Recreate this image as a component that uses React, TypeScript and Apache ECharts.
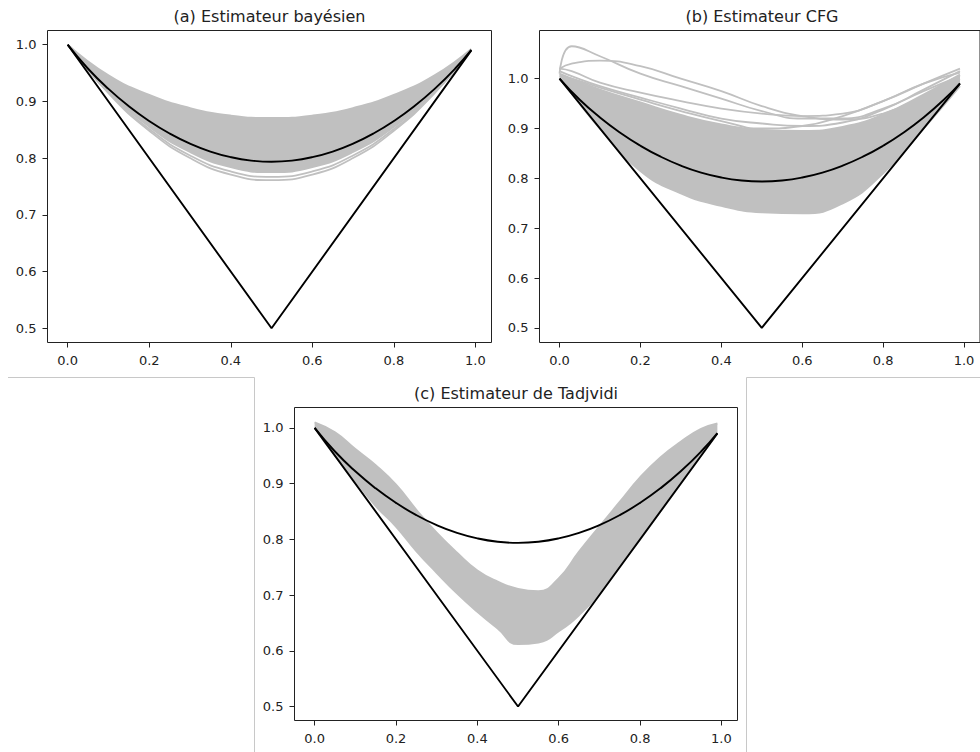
import React, { useEffect, useRef } from "react";
import * as echarts from "echarts";

// ---- shared data ----
const tFine = [0, 0.05, 0.1, 0.15, 0.2, 0.25, 0.3, 0.35, 0.4, 0.45, 0.5, 0.55, 0.6, 0.65, 0.7, 0.75, 0.8, 0.85, 0.9, 0.95, 0.99];
const trueCurve = [1.0, 0.9576, 0.9221, 0.8915, 0.8654, 0.8434, 0.8255, 0.8116, 0.8017, 0.7957, 0.7937, 0.7957, 0.8017, 0.8116, 0.8255, 0.8434, 0.8654, 0.8915, 0.9221, 0.9576, 0.9907];
const boundT = [0, 0.5, 0.99];
const boundV = [1.0, 0.5, 0.99];

// ---- (a) Bayesian estimator ----
const tA = [0, 0.1, 0.2, 0.3, 0.4, 0.5, 0.6, 0.7, 0.8, 0.9, 0.99];
const aUpper = [1.0, 0.9459, 0.9113, 0.8882, 0.8749, 0.8706, 0.8749, 0.8882, 0.9113, 0.9459, 0.9925];
const aLower = [1.0, 0.9176, 0.8556, 0.8111, 0.7843, 0.7754, 0.7843, 0.8111, 0.8556, 0.9176, 0.9905];
const aLine1 = [1.0, 0.9157, 0.8513, 0.8047, 0.7765, 0.767, 0.7765, 0.8047, 0.8513, 0.9157, 0.9903];
const aLine2 = [1.0, 0.9144, 0.8483, 0.8002, 0.7709, 0.7611, 0.7709, 0.8002, 0.8483, 0.9144, 0.9903];

// ---- (b) CFG estimator ----
const tB = [0, 0.03, 0.1, 0.2, 0.3, 0.4, 0.5, 0.6, 0.7, 0.8, 0.9, 0.99];
const bUpper = [1.01, 1.0, 0.978, 0.952, 0.927, 0.908, 0.897, 0.895, 0.903, 0.928, 0.968, 1.008];
const bLower = [1.0, 0.97, 0.9, 0.815, 0.77, 0.745, 0.732, 0.73, 0.75, 0.81, 0.9, 0.985];
const bLine1 = [1.015, 1.005, 0.985, 0.962, 0.94, 0.92, 0.91, 0.905, 0.912, 0.938, 0.978, 1.015];
const bLine2 = [1.02, 1.015, 0.992, 0.972, 0.955, 0.94, 0.93, 0.925, 0.93, 0.955, 0.99, 1.02];
const bLine3 = [1.005, 1.0, 0.982, 0.958, 0.935, 0.915, 0.9, 0.905, 0.925, 0.955, 0.99, 1.012];
const bPeak = [1.01, 1.065, 1.045, 1.01, 0.985, 0.96, 0.935, 0.92, 0.92, 0.94, 0.975, 1.005];
const bFlat = [1.02, 1.03, 1.036, 1.025, 1.0, 0.975, 0.945, 0.925, 0.918, 0.93, 0.965, 1.0];

// ---- (c) Tadjvidi estimator ----
const cUpper = [1.01, 0.992, 0.962, 0.933, 0.898, 0.853, 0.812, 0.776, 0.744, 0.724, 0.711, 0.707, 0.73, 0.778, 0.823, 0.867, 0.911, 0.947, 0.975, 0.998, 1.008];
const cLower = [1.0, 0.95, 0.905, 0.86, 0.823, 0.779, 0.74, 0.703, 0.67, 0.64, 0.612, 0.615, 0.635, 0.664, 0.703, 0.752, 0.8, 0.85, 0.9, 0.95, 0.99];

const xTicks = [0, 0.2, 0.4, 0.6, 0.8, 1.0];
const yTicks = [0.5, 0.6, 0.7, 0.8, 0.9, 1.0];
const titles = ["(a) Estimateur bayésien", "(b) Estimateur CFG", "(c) Estimateur de Tadjvidi"];

const GRAY = "#c0c0c0";
const FONT = "DejaVu Sans";

const pairs = (xs: number[], ys: number[]) => xs.map((x, i) => [x, ys[i]]);

export default function App() {
  const ref = useRef<HTMLDivElement>(null);
  useEffect(() => {
    if (!ref.current) return;
    const chart = echarts.init(ref.current, undefined, { renderer: "svg" });

    const grids = [
      { left: 47.5, top: 30.5, width: 444, height: 312 },
      { left: 539.5, top: 30.5, width: 445, height: 312 },
      { left: 294.5, top: 407.5, width: 443, height: 313 },
    ];
    const yRanges = [
      [0.475, 1.025],
      [0.4706, 1.0966],
      [0.4749, 1.0366],
    ];

    const xAxis = grids.map((_, i) => ({
      type: "value",
      gridIndex: i,
      min: -0.0495,
      max: 1.0395,
      splitLine: { show: false },
      axisLine: { show: false, onZero: false },
      axisTick: { show: true, inside: false, length: 5, customValues: xTicks, lineStyle: { color: "#222", width: 1 } },
      axisLabel: {
        customValues: xTicks,
        formatter: (v: number) => v.toFixed(1),
        fontSize: 13,
        fontFamily: FONT,
        color: "#222",
        margin: 11,
      },
      z: 6,
    }));
    const yAxis = grids.map((_, i) => ({
      type: "value",
      gridIndex: i,
      min: yRanges[i][0],
      max: yRanges[i][1],
      splitLine: { show: false },
      axisLine: { show: false, onZero: false },
      axisTick: { show: true, inside: false, length: 5, customValues: yTicks, lineStyle: { color: "#222", width: 1 } },
      axisLabel: {
        customValues: yTicks,
        formatter: (v: number) => v.toFixed(1),
        fontSize: 13,
        fontFamily: FONT,
        color: "#222",
        margin: 11,
      },
      z: 6,
    }));

    const series: any[] = [];
    const base = (gi: number) => ({
      type: "line",
      xAxisIndex: gi,
      yAxisIndex: gi,
      symbol: "none",
      silent: true,
    });
    const band = (gi: number, xs: number[], up: number[], lo: number[]) => {
      // gray fill under the upper envelope
      series.push({
        ...base(gi),
        data: pairs(xs, up),
        smooth: true,
        lineStyle: { color: GRAY, width: 2 },
        areaStyle: { color: GRAY, opacity: 1, origin: "start" },
        z: 1,
      });
      // white fill under the lower envelope, continued a hair beyond both ends
      // along the end segments so that no seam is left at the band's ends
      const n = xs.length;
      const d = 0.006;
      const sL = (lo[1] - lo[0]) / (xs[1] - xs[0]);
      const sR = (lo[n - 1] - lo[n - 2]) / (xs[n - 1] - xs[n - 2]);
      const loData = [[xs[0] - d, lo[0] - sL * d], ...pairs(xs, lo), [xs[n - 1] + d, lo[n - 1] + sR * d]];
      series.push({
        ...base(gi),
        data: loData,
        smooth: true,
        lineStyle: { width: 0, opacity: 0 },
        areaStyle: { color: "#ffffff", opacity: 1, origin: "start" },
        z: 2,
      });
      // gray stroke of the lower envelope
      series.push({
        ...base(gi),
        data: pairs(xs, lo),
        smooth: true,
        lineStyle: { color: GRAY, width: 2 },
        z: 3,
      });
    };
    const grayLine = (gi: number, xs: number[], ys: number[]) => {
      series.push({
        ...base(gi),
        data: pairs(xs, ys),
        smooth: true,
        lineStyle: { color: GRAY, width: 1.8 },
        z: 3,
      });
    };
    const blackLines = (gi: number) => {
      series.push({
        ...base(gi),
        data: pairs(boundT, boundV),
        lineStyle: { color: "#000", width: 1.9 },
        z: 4,
      });
      series.push({
        ...base(gi),
        data: pairs(tFine, trueCurve),
        smooth: true,
        lineStyle: { color: "#000", width: 1.9 },
        z: 4,
      });
    };

    // (a)
    band(0, tA, aUpper, aLower);
    grayLine(0, tA, aLine1);
    grayLine(0, tA, aLine2);
    blackLines(0);
    // (b)
    band(1, tB, bUpper, bLower);
    grayLine(1, tB, bLine1);
    grayLine(1, tB, bLine2);
    grayLine(1, tB, bLine3);
    grayLine(1, tB, bPeak);
    grayLine(1, tB, bFlat);
    blackLines(1);
    // (c)
    band(2, tFine, cUpper, cLower);
    blackLines(2);

    const titleCenters = [
      [47.5 + 444 / 2, 16.5],
      [539.5 + 445 / 2, 16.5],
      [294.5 + 443 / 2, 393.5],
    ];

    const sepColor = "#c8c8c8";
    const graphic: any[] = titles.map((t, i) => ({
      type: "text",
      x: titleCenters[i][0],
      y: titleCenters[i][1],
      style: {
        text: t,
        fontSize: 16,
        fontFamily: FONT,
        fill: "#222",
        textAlign: "center",
        textVerticalAlign: "middle",
      },
      z: 10,
    }));
    graphic.push(
      { type: "line", shape: { x1: 8, y1: 377.5, x2: 254.5, y2: 377.5 }, style: { stroke: sepColor, lineWidth: 1 } },
      { type: "line", shape: { x1: 254.5, y1: 377.5, x2: 254.5, y2: 752 }, style: { stroke: sepColor, lineWidth: 1 } },
      { type: "line", shape: { x1: 746.5, y1: 377.5, x2: 980, y2: 377.5 }, style: { stroke: sepColor, lineWidth: 1 } },
      { type: "line", shape: { x1: 746.5, y1: 377.5, x2: 746.5, y2: 752 }, style: { stroke: sepColor, lineWidth: 1 } }
    );

    chart.setOption({
      animation: false,
      backgroundColor: "#ffffff",
      grid: grids.map((g) => ({ ...g, show: true, borderColor: "#222", borderWidth: 1, backgroundColor: "transparent", z: 5 })),
      xAxis,
      yAxis,
      series,
      graphic,
    });
    return () => chart.dispose();
  }, []);

  return <div ref={ref} style={{ position: "absolute", left: 0, top: 0, width: 980, height: 752 }} />;
}
